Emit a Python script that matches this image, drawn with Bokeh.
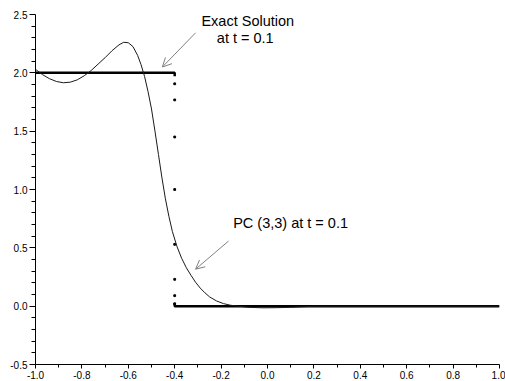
from bokeh.plotting import figure
from bokeh.models import Range1d, FixedTicker, Label, Arrow, OpenHead, PrintfTickFormatter
from bokeh.embed import file_html
from bokeh.resources import INLINE

# PC (3,3) approximation at t = 0.1
pc_x = [-1.00, -0.97, -0.94, -0.91, -0.88, -0.85, -0.82, -0.79, -0.76, -0.73,
        -0.70, -0.67, -0.64, -0.62, -0.60, -0.58, -0.56, -0.545, -0.53, -0.515,
        -0.50, -0.485, -0.47, -0.455, -0.44, -0.425, -0.41, -0.39, -0.37, -0.35,
        -0.33, -0.31, -0.29, -0.27, -0.25, -0.22, -0.19, -0.16, -0.12, -0.08,
        -0.02, 0.04, 0.10, 0.15, 0.20, 0.30, 1.00]
pc_y = [2.030, 1.985, 1.950, 1.926, 1.915, 1.920, 1.940, 1.975, 2.020, 2.075,
        2.130, 2.190, 2.240, 2.262, 2.258, 2.225, 2.150, 2.070, 1.970, 1.840,
        1.690, 1.500, 1.300, 1.100, 0.920, 0.770, 0.640, 0.510, 0.410, 0.330,
        0.265, 0.205, 0.155, 0.115, 0.080, 0.045, 0.022, 0.008, -0.002, -0.010,
        -0.014, -0.013, -0.010, -0.005, -0.001, 0.000, 0.000]

# exact solution: a step from 2 down to 0 at x = -0.4
exact_upper_x = [-1.0, -0.4, -0.4]
exact_upper_y = [2.0, 2.0, 1.97]
exact_lower_x = [-0.4, -0.4, 1.0]
exact_lower_y = [0.03, 0.0, 0.0]

# sampled points across the jump
jump_x = [-0.4, -0.4, -0.4, -0.4, -0.4, -0.4, -0.4, -0.4]
jump_y = [1.906, 1.768, 1.45, 1.0, 0.53, 0.23, 0.09, 0.02]

# axis ticks
x_major = [-1.0, -0.8, -0.6, -0.4, -0.2, 0.0, 0.2, 0.4, 0.6, 0.8, 1.0]
x_minor = [-0.9, -0.7, -0.5, -0.3, -0.1, 0.1, 0.3, 0.5, 0.7, 0.9]
y_major = [-0.5, 0.0, 0.5, 1.0, 1.5, 2.0, 2.5]
y_minor = [-0.4, -0.3, -0.2, -0.1, 0.1, 0.2, 0.3, 0.4, 0.6, 0.7, 0.8, 0.9,
           1.1, 1.2, 1.3, 1.4, 1.6, 1.7, 1.8, 1.9, 2.1, 2.2, 2.3, 2.4]

FONT = "Liberation Sans"

p = figure(width=505, height=381, output_backend="svg", toolbar_location=None,
           x_range=Range1d(-1.0, 1.0), y_range=Range1d(-0.5, 2.5),
           min_border_left=35, min_border_right=6, min_border_top=14,
           min_border_bottom=17)
p.outline_line_color = None
p.xgrid.visible = False
p.ygrid.visible = False
p.background_fill_color = "white"
p.border_fill_color = "white"

for ax, major, minor in ((p.xaxis[0], x_major, x_minor), (p.yaxis[0], y_major, y_minor)):
    ax.ticker = FixedTicker(ticks=major, minor_ticks=minor)
    ax.formatter = PrintfTickFormatter(format="%.1f")
    ax.axis_line_color = "black"
    ax.major_tick_line_color = "black"
    ax.minor_tick_line_color = "black"
    ax.major_tick_in = 0
    ax.minor_tick_in = 0
    ax.major_label_text_font = FONT
    ax.major_label_text_font_size = "10px"
    ax.major_label_text_color = "black"

p.xaxis.major_tick_out = 4
p.xaxis.minor_tick_out = 3
p.xaxis.major_label_standoff = 2
p.yaxis.major_tick_out = 6
p.yaxis.minor_tick_out = 4
p.yaxis.major_label_standoff = 2

# exact solution
p.line(exact_upper_x, exact_upper_y, line_color="black", line_width=2.5)
p.line(exact_lower_x, exact_lower_y, line_color="black", line_width=2.5)
p.scatter(jump_x, jump_y, marker="square", size=1.8, fill_color="black", line_color="black")

# PC approximation
p.line(pc_x, pc_y, line_color="#1a1a1a", line_width=1)

# annotations
for txt, xx, yy, align in (("Exact Solution", -0.085, 2.446, "center"),
                           ("at t = 0.1", -0.096, 2.30, "center"),
                           ("PC (3,3) at t = 0.1", -0.148, 0.71, "left")):
    p.add_layout(Label(x=xx, y=yy, text=txt, text_font=FONT, text_font_size="14.5px",
                       text_align=align, text_baseline="middle", text_color="black"))

p.add_layout(Arrow(end=OpenHead(size=9, line_color="#808080", line_width=1),
                   x_start=-0.310, y_start=2.343, x_end=-0.453, y_end=2.05,
                   line_color="#808080", line_width=1))
p.add_layout(Arrow(end=OpenHead(size=9, line_color="#808080", line_width=1),
                   x_start=-0.168, y_start=0.558, x_end=-0.310, y_end=0.317,
                   line_color="#808080", line_width=1))

open("out.html", "w").write(file_html(p, INLINE))
